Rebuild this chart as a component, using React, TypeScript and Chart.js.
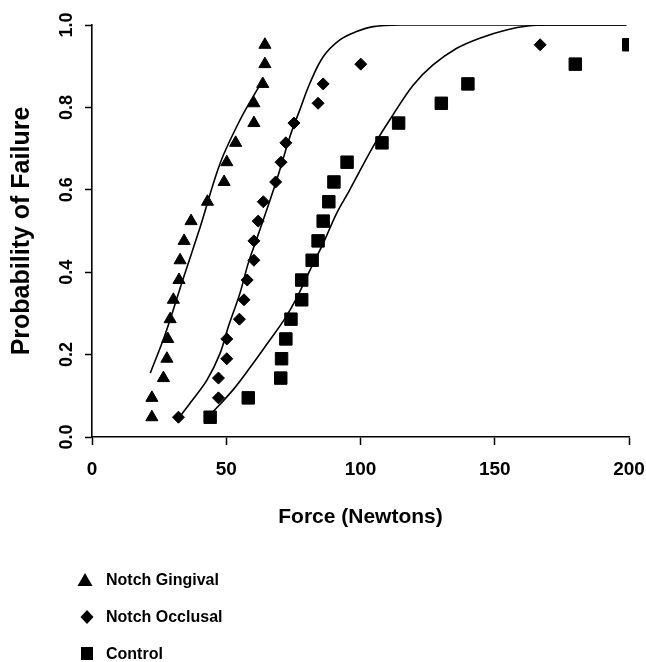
import React, { useEffect, useRef } from 'react';
import { Chart, registerables } from 'chart.js';

Chart.register(...registerables);

// Observed failures: force (N) for each ranked specimen
const gingivalForce = [22.3, 22.3, 26.6, 27.9, 28.2, 29.1, 30.3, 32.4, 32.8, 34.3, 36.9, 43.0, 49.2, 50.2, 53.5, 60.3, 60.3, 63.6, 64.4, 64.4];
const occlusalForce = [32.2, 47.1, 47.1, 50.2, 50.2, 54.9, 56.6, 57.8, 60.3, 60.3, 61.9, 63.8, 68.4, 70.4, 72.2, 75.2, 84.2, 86.1, 100.1, 166.9];
const controlForce = [44.0, 58.2, 70.3, 70.6, 72.2, 74.1, 78.1, 78.1, 82.0, 84.2, 86.1, 88.2, 90.1, 95.0, 108.0, 114.2, 130.1, 140.0, 180.0, 199.9];
const failureProb = [0.048, 0.095, 0.143, 0.19, 0.238, 0.286, 0.333, 0.381, 0.429, 0.476, 0.524, 0.571, 0.619, 0.667, 0.714, 0.762, 0.81, 0.857, 0.905, 0.952];

// Fitted curves
const gingivalCurveX = [21.7, 27.2, 33.8, 40.3, 47.7, 55.1, 62.5, 63.7];
const gingivalCurveY = [0.155, 0.248, 0.381, 0.51, 0.664, 0.769, 0.854, 0.867];
const occlusalCurveX = [32.2, 36.5, 42.8, 47.7, 50.8, 55.1, 58.2, 61.2, 68.8, 73.7, 77.4, 81.1, 86.1, 92.3, 98.5, 104.7, 114.6, 199];
const occlusalCurveY = [0.045, 0.082, 0.138, 0.203, 0.268, 0.349, 0.422, 0.478, 0.624, 0.729, 0.794, 0.858, 0.923, 0.964, 0.984, 0.996, 1.0, 1.0];
const controlCurveX = [43.5, 52.6, 58.8, 65.1, 71.9, 76.2, 81.2, 86.1, 91.1, 96.0, 104.7, 112.1, 119.6, 127.0, 135.7, 144.4, 154.3, 162.9, 169.1, 199];
const controlCurveY = [0.05, 0.115, 0.168, 0.225, 0.288, 0.337, 0.405, 0.47, 0.543, 0.6, 0.705, 0.782, 0.854, 0.903, 0.943, 0.968, 0.988, 0.998, 1.0, 1.0];

const seriesLabels = ['Notch Gingival', 'Notch Occlusal', 'Control'];
const seriesShapes = ['triangle', 'rectRot', 'rect'];

const xTicks = [0, 50, 100, 150, 200];
const yTicks = [0, 0.2, 0.4, 0.6, 0.8, 1.0];

const FONT = "'Liberation Sans', Arial, Helvetica, sans-serif";

const zip = (xs: number[], ys: number[]) => xs.map((x, i) => ({ x, y: ys[i] }));

const legendPlugin = {
  id: 'stackedLegend',
  afterDraw(chart: any) {
    const { ctx, chartArea } = chart;
    ctx.save();
    ctx.fillStyle = '#000';
    ctx.font = `bold 16px ${FONT}`;
    ctx.textBaseline = 'middle';
    ctx.textAlign = 'left';
    const rows = [143, 180, 216.5];
    seriesLabels.forEach((label, i) => {
      const y = chartArea.bottom + rows[i];
      const mx = chartArea.left - 7 + (i === 0 ? 0 : 2);
      ctx.beginPath();
      if (seriesShapes[i] === 'triangle') {
        ctx.moveTo(mx, y - 7);
        ctx.lineTo(mx + 7.5, y + 6);
        ctx.lineTo(mx - 7.5, y + 6);
        ctx.closePath();
      } else if (seriesShapes[i] === 'rectRot') {
        ctx.moveTo(mx, y - 7);
        ctx.lineTo(mx + 6.5, y);
        ctx.lineTo(mx, y + 7);
        ctx.lineTo(mx - 6.5, y);
        ctx.closePath();
      } else {
        ctx.rect(mx - 6, y - 6.5, 12, 13);
      }
      ctx.fill();
      ctx.fillText(label, chartArea.left + 14, y + 1);
    });
    ctx.restore();
  },
};

export default function App() {
  const ref = useRef<HTMLCanvasElement | null>(null);
  useEffect(() => {
    if (!ref.current) return;
    const pointDs = (data: any[], style: string, radius: number) => ({
      data,
      showLine: false,
      pointStyle: style,
      pointRadius: radius,
      pointBackgroundColor: '#000',
      pointBorderColor: '#000',
      pointBorderWidth: 1,
    });
    const lineDs = (data: any[]) => ({
      data,
      showLine: true,
      pointRadius: 0,
      borderColor: '#000',
      borderWidth: 1.6,
      tension: 0.35,
      fill: false,
    });
    const chart = new Chart(ref.current, {
      type: 'scatter',
      data: {
        datasets: [
          { label: seriesLabels[0], ...pointDs(zip(gingivalForce, failureProb), 'triangle', 7) },
          { label: seriesLabels[1], ...pointDs(zip(occlusalForce, failureProb), 'rectRot', 6) },
          { label: seriesLabels[2], ...pointDs(zip(controlForce, failureProb), 'rect', 8.8) },
          { label: 'fit-g', ...lineDs(zip(gingivalCurveX, gingivalCurveY)) },
          { label: 'fit-o', ...lineDs(zip(occlusalCurveX, occlusalCurveY)) },
          { label: 'fit-c', ...lineDs(zip(controlCurveX, controlCurveY)) },
        ] as any,
      },
      options: {
        animation: false,
        responsive: false,
        maintainAspectRatio: false,
        layout: { padding: { left: 0, top: 25, right: 17, bottom: 125 } },
        plugins: {
          legend: { display: false },
          tooltip: { enabled: false },
        },
        scales: {
          x: {
            type: 'linear',
            min: 0,
            max: 200,
            afterBuildTicks: (scale: any) => {
              scale.ticks = xTicks.map((v) => ({ value: v }));
            },
            afterFit: (scale: any) => {
              scale.height = 100;
              scale.paddingLeft = 0;
              scale.paddingRight = 0;
            },
            ticks: {
              color: '#000',
              font: { family: FONT, size: 19, weight: 'bold' },
              padding: 13,
              maxRotation: 0,
            },
            grid: {
              drawOnChartArea: false,
              drawTicks: true,
              tickLength: 8,
              color: '#000',
              tickColor: '#000',
              tickWidth: 1.5,
            },
            border: { color: '#000', width: 1.6 },
            title: {
              display: true,
              text: 'Force (Newtons)',
              color: '#000',
              font: { family: FONT, size: 21, weight: 'bold' },
              padding: { top: 0, bottom: 7.4 },
            },
          },
          y: {
            type: 'linear',
            min: 0,
            max: 1,
            afterBuildTicks: (scale: any) => {
              scale.ticks = yTicks.map((v) => ({ value: v }));
            },
            afterFit: (scale: any) => {
              scale.width = 92;
              scale.paddingTop = 0;
              scale.paddingBottom = 0;
            },
            ticks: {
              color: '#000',
              font: { family: FONT, size: 18, weight: 'bold' },
              minRotation: 90,
              maxRotation: 90,
              crossAlign: 'center',
              padding: 5.5,
              callback: (v: any) => Number(v).toFixed(1),
            },
            grid: {
              drawOnChartArea: false,
              drawTicks: true,
              tickLength: 7,
              color: '#000',
              tickColor: '#000',
              tickWidth: 1.5,
            },
            border: { color: '#000', width: 1.6 },
            title: {
              display: true,
              text: 'Probability of Failure',
              color: '#000',
              font: { family: FONT, size: 25, weight: 'bold' },
              padding: { top: 7, bottom: 0 },
            },
          },
        },
      } as any,
      plugins: [legendPlugin],
    });
    return () => chart.destroy();
  }, []);
  return (
    <div style={{ position: 'fixed', left: 0, top: 0, width: 646, height: 662, background: '#fff' }}>
      <canvas ref={ref} width={646} height={662} style={{ display: 'block', width: 646, height: 662 }} />
    </div>
  );
}
